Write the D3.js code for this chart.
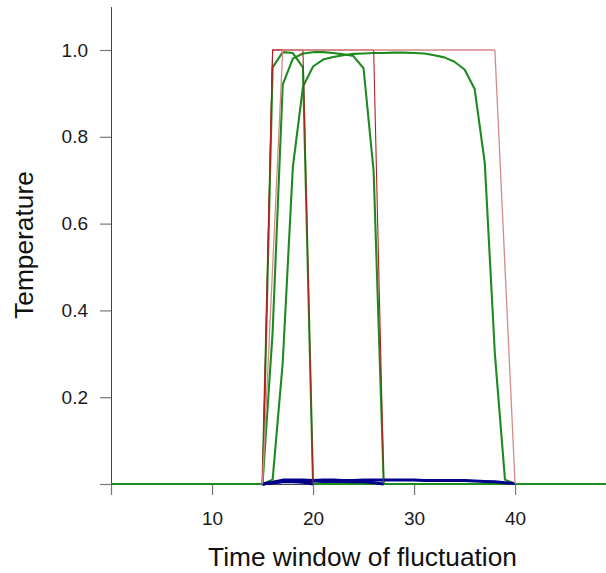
<!DOCTYPE html>
<html>
<head>
<meta charset="utf-8">
<script src="https://cdn.jsdelivr.net/npm/d3@7"></script>
<style>
  html, body { margin: 0; padding: 0; background: #fff; }
  svg { display: block; font-family: "Liberation Sans", Arial, sans-serif; }
</style>
</head>
<body>
<svg id="chart" width="606" height="573"></svg>
<script>
// ---- data ----
const xTicks = [0, 10, 20, 30, 40];
const xTickLabels = ["", "10", "20", "30", "40"];
const yTicks = [0, 0.2, 0.4, 0.6, 0.8, 1.0];
const yTickLabels = ["", "0.2", "0.4", "0.6", "0.8", "1.0"];

// input pulses (red)
const pulse1T = [15, 16, 19, 20];
const pulse1V = [0, 1, 1, 0];
const pulse2T = [15, 16, 26, 27];
const pulse2V = [0, 1, 1, 0];
const pulse3T = [15, 17, 38, 40];
const pulse3V = [0, 1, 1, 0];

// responses (green)
const green1T = [0, 15, 16, 17, 18, 19, 20, 49];
const green1V = [0, 0, 0.96, 0.995, 0.993, 0.96, 0, 0];
const green2T = [0, 15, 16, 17, 18, 19, 20, 21, 22, 23, 24, 25, 26, 27, 49];
const green2V = [0, 0, 0.35, 0.92, 0.98, 0.992, 0.995, 0.995, 0.993, 0.99, 0.986, 0.958, 0.72, 0, 0];
const green3T = [0, 15, 16, 17, 18, 19, 20, 21, 22, 23, 24, 25, 26, 27, 28, 29, 30, 31, 32, 33, 34, 35, 36, 37, 38, 39, 40, 49];
const green3V = [0, 0, 0.01, 0.28, 0.73, 0.915, 0.962, 0.978, 0.984, 0.988, 0.991, 0.992, 0.993, 0.993, 0.994, 0.994, 0.993, 0.992, 0.988, 0.983, 0.973, 0.955, 0.91, 0.74, 0.3, 0.01, 0, 0];

// small responses (blue)
const blue1T = [15, 16, 17, 18, 19, 20];
const blue1V = [0, 0.003, 0.005, 0.005, 0.004, 0];
const blue2T = [15, 16, 17, 18, 19, 20, 21, 22, 23, 24, 25, 26, 27];
const blue2V = [0, 0.003, 0.006, 0.007, 0.007, 0.007, 0.006, 0.006, 0.006, 0.005, 0.005, 0.003, 0];
const blue3T = [15, 16, 17, 18, 19, 20, 21, 22, 23, 24, 25, 26, 27, 28, 29, 30, 31, 32, 33, 34, 35, 36, 37, 38, 39, 40];
const blue3V = [0, 0.004, 0.009, 0.009, 0.009, 0.008, 0.009, 0.009, 0.008, 0.008, 0.009, 0.009, 0.009, 0.009, 0.009, 0.009, 0.008, 0.008, 0.008, 0.008, 0.008, 0.007, 0.006, 0.005, 0.003, 0.001];

const xTitle = "Time window of fluctuation";
const yTitle = "Temperature";

// ---- drawing ----
const svg = d3.select("#chart");
const x = d3.scaleLinear().domain([0, 49]).range([111, 606]);
const y = d3.scaleLinear().domain([0, 1.1]).range([484, 6.6]);

const axisColor = "#444";
const labelFont = "'Liberation Sans', Arial, sans-serif";

const xAxis = d3.axisBottom(x)
  .tickValues(xTicks)
  .tickFormat((d, i) => xTickLabels[i])
  .tickSizeInner(11).tickSizeOuter(0).tickPadding(17);
const gx = svg.append("g").attr("transform", `translate(0,${y(0)})`).call(xAxis);
gx.select(".domain").attr("stroke", axisColor).attr("stroke-width", 1);
gx.selectAll(".tick line").attr("stroke", "#777").attr("stroke-width", 1.2);
gx.selectAll(".tick text").attr("font-size", 19).attr("fill", "#1a1a1a")
  .attr("font-family", labelFont);

const yAxis = d3.axisLeft(y)
  .tickValues(yTicks)
  .tickFormat((d, i) => yTickLabels[i])
  .tickSizeInner(11).tickSizeOuter(0).tickPadding(12);
const gy = svg.append("g").attr("transform", `translate(${x(0)},0)`).call(yAxis);
gy.select(".domain").attr("stroke", axisColor).attr("stroke-width", 1);
gy.selectAll(".tick line").attr("stroke", "#777").attr("stroke-width", 1.2);
gy.selectAll(".tick text").attr("font-size", 19).attr("fill", "#1a1a1a")
  .attr("font-family", labelFont);

const line = d3.line().x(d => x(d[0])).y(d => y(d[1]));
const zipT = (t, v) => t.map((d, i) => [d, v[i]]);

const plot = svg.append("g");

function drawSeries(t, v, color, width) {
  plot.append("path")
    .datum(zipT(t, v))
    .attr("d", line)
    .attr("fill", "none")
    .attr("stroke", color)
    .attr("stroke-width", width)
    .attr("stroke-linejoin", "round");
}

drawSeries(green3T, green3V, "#1f8a1f", 2.1);
drawSeries(green2T, green2V, "#1f8a1f", 2.1);
drawSeries(green1T, green1V, "#1f8a1f", 2.1);

drawSeries(blue3T, blue3V, "#00008B", 3);
drawSeries(blue2T, blue2V, "#00008B", 3);
drawSeries(blue1T, blue1V, "#00008B", 3);

drawSeries(pulse1T, pulse1V, "#b22222", 1.1);
drawSeries(pulse2T, pulse2V, "#b22222", 1.1);
drawSeries(pulse3T, pulse3V, "#d48a8a", 1.3);

svg.append("text")
  .attr("x", 362.5).attr("y", 566)
  .attr("text-anchor", "middle")
  .attr("font-size", 26.3)
  .attr("fill", "#111")
  .text(xTitle);

svg.append("text")
  .attr("transform", "translate(33,245) rotate(-90)")
  .attr("text-anchor", "middle")
  .attr("font-size", 26.3)
  .attr("fill", "#111")
  .text(yTitle);
</script>
</body>
</html>
